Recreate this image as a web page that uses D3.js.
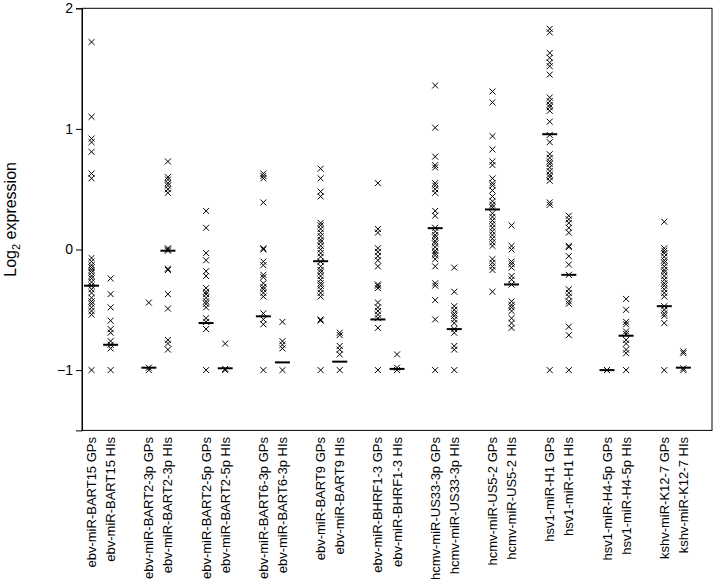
<!DOCTYPE html>
<html><head><meta charset="utf-8">
<script src="https://cdn.jsdelivr.net/npm/d3@7"></script>
<style>body{margin:0;background:#fff}svg{display:block}text{font-family:Arial,"Liberation Sans",sans-serif;fill:#000}</style>
</head><body><svg id="c" width="720" height="582"></svg>
<script>
const categories = ["ebv-miR-BART15 GPs","ebv-miR-BART15 HIs","ebv-miR-BART2-3p GPs","ebv-miR-BART2-3p HIs","ebv-miR-BART2-5p GPs","ebv-miR-BART2-5p HIs","ebv-miR-BART6-3p GPs","ebv-miR-BART6-3p HIs","ebv-miR-BART9 GPs","ebv-miR-BART9 HIs","ebv-miR-BHRF1-3 GPs","ebv-miR-BHRF1-3 HIs","hcmv-miR-US33-3p GPs","hcmv-miR-US33-3p HIs","hcmv-miR-US5-2 GPs","hcmv-miR-US5-2 HIs","hsv1-miR-H1 GPs","hsv1-miR-H1 HIs","hsv1-miR-H4-5p GPs","hsv1-miR-H4-5p HIs","kshv-miR-K12-7 GPs","kshv-miR-K12-7 HIs"];
const pointValues = [
 [1.72,1.10,0.92,0.89,0.81,0.63,0.59,-0.07,-0.10,-0.13,-0.15,-0.17,-0.19,-0.22,-0.24,-0.27,-0.30,-0.33,-0.36,-0.40,-0.43,-0.45,-0.48,-0.51,-0.54,-1],
 [-0.24,-0.37,-0.48,-0.59,-0.66,-0.69,-0.76,-0.79,-0.82,-1],
 [-0.44,-0.98,-1],
 [0.73,0.60,0.58,0.55,0.53,0.50,0.47,0.01,0.0,-0.01,-0.16,-0.17,-0.37,-0.49,-0.75,-0.78,-0.83],
 [0.32,0.18,-0.03,-0.09,-0.18,-0.22,-0.32,-0.35,-0.37,-0.40,-0.43,-0.45,-0.48,-0.57,-0.60,-0.66,-1],
 [-0.78,-0.99,-1],
 [0.63,0.61,0.59,0.39,0.01,0.0,-0.10,-0.13,-0.21,-0.23,-0.28,-0.31,-0.33,-0.36,-0.39,-0.53,-0.58,-0.62,-1],
 [-0.60,-0.76,-0.79,-0.82,-1],
 [0.67,0.59,0.48,0.44,0.22,0.20,0.17,0.14,0.11,0.08,0.06,0.03,0.0,-0.03,-0.06,-0.10,-0.14,-0.17,-0.19,-0.22,-0.25,-0.28,-0.30,-0.33,-0.36,-0.39,-0.58,-0.59,-1],
 [-0.69,-0.71,-0.80,-0.83,-0.87,-1],
 [0.55,0.17,0.14,0.01,-0.02,-0.055,-0.09,-0.14,-0.29,-0.30,-0.32,-0.44,-0.48,-0.51,-0.54,-0.57,-0.65,-1],
 [-0.87,-0.98,-1],
 [1.36,1.01,0.77,0.70,0.68,0.55,0.53,0.50,0.47,0.32,0.28,0.18,0.15,0.12,0.10,0.07,0.05,0.02,-0.01,-0.03,-0.05,-0.08,-0.14,-0.28,-0.30,-0.42,-0.58,-1],
 [-0.15,-0.35,-0.47,-0.50,-0.53,-0.55,-0.58,-0.61,-0.66,-0.69,-0.80,-0.83,-1],
 [1.31,1.22,0.94,0.83,0.73,0.70,0.59,0.55,0.53,0.49,0.44,0.40,0.37,0.35,0.30,0.27,0.24,0.21,0.18,0.15,0.12,0.09,0.06,0.03,-0.08,-0.11,-0.14,-0.17,-0.35],
 [0.20,0.03,0.0,-0.10,-0.12,-0.15,-0.22,-0.25,-0.29,-0.43,-0.46,-0.48,-0.51,-0.57,-0.61,-0.65],
 [1.83,1.80,1.63,1.59,1.55,1.52,1.45,1.26,1.23,1.20,1.18,1.15,1.06,0.95,0.89,0.79,0.76,0.73,0.71,0.68,0.65,0.62,0.60,0.57,0.39,0.37,-1],
 [0.28,0.25,0.22,0.18,0.14,0.03,0.02,-0.055,-0.125,-0.21,-0.33,-0.36,-0.39,-0.43,-0.45,-0.64,-0.71,-1],
 [-1,-1],
 [-0.41,-0.50,-0.60,-0.62,-0.68,-0.70,-0.75,-0.78,-0.83,-0.86,-1],
 [0.23,0.01,-0.01,-0.03,-0.06,-0.09,-0.11,-0.14,-0.17,-0.19,-0.22,-0.25,-0.28,-0.30,-0.33,-0.36,-0.39,-0.47,-0.50,-0.53,-0.55,-0.61,-1],
 [-0.845,-0.86,-0.985,-1]
];
const medians = [-0.30,-0.79,-0.98,-0.01,-0.61,-0.985,-0.554,-0.936,-0.097,-0.93,-0.58,-0.99,0.177,-0.66,0.332,-0.29,0.956,-0.21,-1.0,-0.715,-0.47,-0.98];
const yTicks = [2,1,0,-1];

const svg = d3.select("#c");
const L = 82, R = 712, T = 8.3, B = 430.4;

// slots: each pair followed by an empty gap slot
const slots = [];
categories.forEach((c,i)=>{ slots.push(c); if(i%2===1) slots.push("gap"+i); });
const x = d3.scaleBand().domain(slots).range([L,R]);
const cx = c => x(c) + x.bandwidth()/2;
const y = d3.scaleLinear().domain([-1.5,2]).range([B,T]);

// frame
svg.append("rect").attr("x",L).attr("y",T).attr("width",R-L).attr("height",B-T)
  .attr("fill","none").attr("stroke","#000").attr("stroke-width",1);

// y axis
const ya = svg.append("g").attr("transform",`translate(${L},0)`)
  .call(d3.axisLeft(y).tickValues(yTicks).tickSize(6).tickPadding(3).tickFormat(d3.format("d")));
ya.select(".domain").attr("stroke","#000");
ya.selectAll("text").style("font-size","14px").style("font-family","Arial, 'Liberation Sans', sans-serif").attr("fill","#000");
ya.selectAll("line").attr("stroke","#000");

// y label
const yl = svg.append("text").attr("transform",`translate(16,${(T+B)/2}) rotate(-90)`)
  .attr("text-anchor","middle").style("font-size","16px");
yl.append("tspan").text("Log");
yl.append("tspan").text("2").style("font-size","11px").attr("dy","4");
yl.append("tspan").text(" expression").attr("dy","-4");

// x labels
categories.forEach(c=>{
  svg.append("text").attr("transform",`translate(${cx(c)},437) rotate(-90)`)
    .attr("text-anchor","end").attr("dy","0.35em").style("font-size","13px").text(c);
});

// points
const sym = d3.symbol(d3.symbolTimes, 25);
categories.forEach((c,i)=>{
  svg.append("g").selectAll("path").data(pointValues[i]).join("path")
    .attr("d",sym).attr("transform",v=>`translate(${cx(c)},${y(v)})`)
    .attr("fill","none").attr("stroke","#000").attr("stroke-width",1);
});

// medians
svg.append("g").selectAll("line").data(categories).join("line")
  .attr("x1",c=>cx(c)-7.5).attr("x2",c=>cx(c)+7.5)
  .attr("y1",(c,i)=>y(medians[i])).attr("y2",(c,i)=>y(medians[i]))
  .attr("stroke","#000").attr("stroke-width",2);
</script></body></html>
